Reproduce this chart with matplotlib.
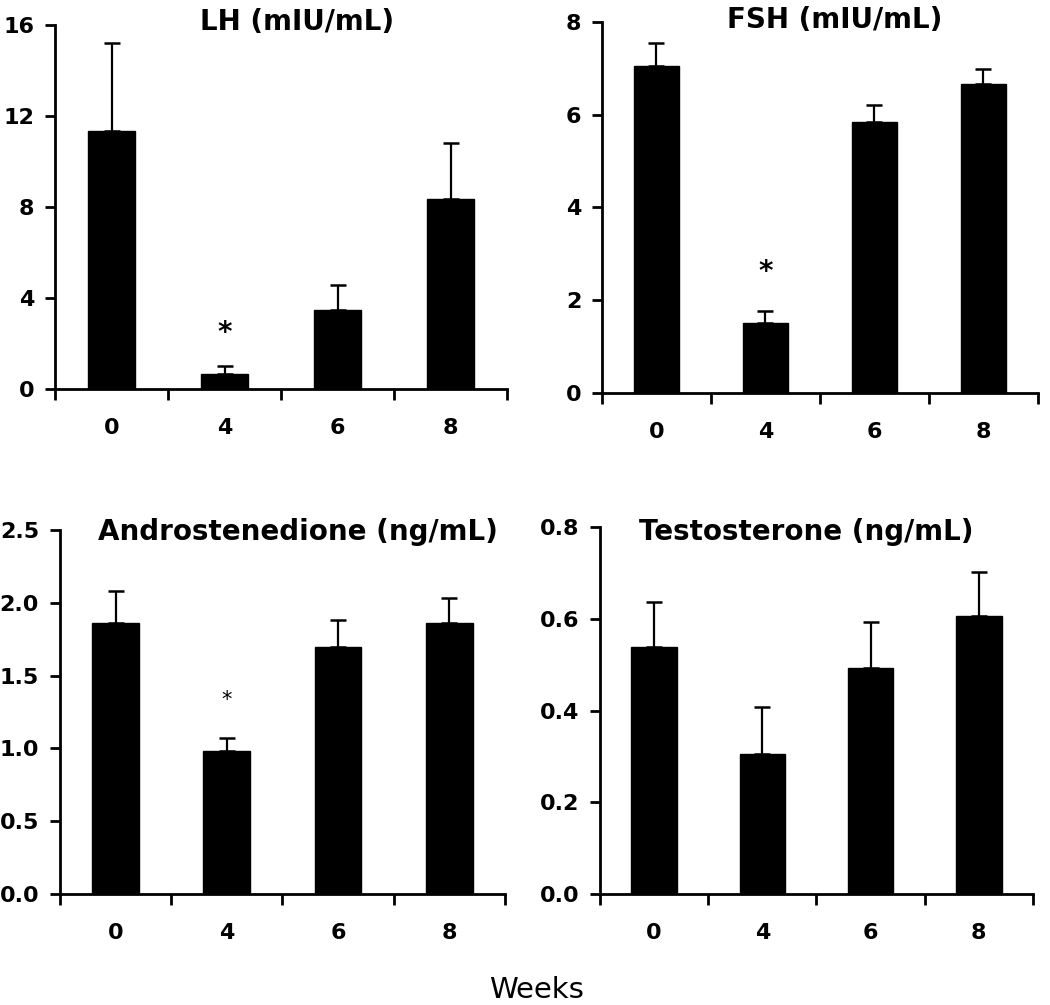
import matplotlib
matplotlib.use("Agg")
import matplotlib.pyplot as plt
import numpy as np

plt.rcParams['font.family'] = ['DejaVu Sans']

weeks = ["0", "4", "6", "8"]

lh_mean = [11.35, 0.66, 3.47, 8.35]
lh_err = [3.85, 0.34, 1.10, 2.45]

fsh_mean = [7.05, 1.51, 5.84, 6.66]
fsh_err = [0.49, 0.26, 0.36, 0.32]

andro_mean = [1.86, 0.98, 1.70, 1.86]
andro_err = [0.22, 0.09, 0.18, 0.17]

testo_mean = [0.539, 0.306, 0.493, 0.607]
testo_err = [0.098, 0.102, 0.101, 0.096]

titles = ["LH (mIU/mL)", "FSH (mIU/mL)", "Androstenedione (ng/mL)", "Testosterone (ng/mL)"]
yticks = [[0, 4, 8, 12, 16], [0, 2, 4, 6, 8],
          [0.0, 0.5, 1.0, 1.5, 2.0, 2.5], [0.0, 0.2, 0.4, 0.6, 0.8]]
ytick_labels = [["0", "4", "8", "12", "16"], ["0", "2", "4", "6", "8"],
                ["0.0", "0.5", "1.0", "1.5", "2.0", "2.5"], ["0.0", "0.2", "0.4", "0.6", "0.8"]]

# significance markers: (panel, bar index, y value, bold, size)
stars = [(0, 1, 2.46, True, 20), (1, 1, 2.6, True, 20), (2, 1, 1.33, False, 15)]

fig = plt.figure(figsize=(10.5, 10.05), dpi=100)
rects = [
    [0.0524, 0.6129, 0.4305, 0.3622],
    [0.5733, 0.6090, 0.4152, 0.3692],
    [0.0571, 0.1104, 0.4238, 0.3622],
    [0.5714, 0.1104, 0.4124, 0.3652],
]
means = [lh_mean, fsh_mean, andro_mean, testo_mean]
errs = [lh_err, fsh_err, andro_err, testo_err]
title_y = [1005 - 22, 1005 - 20, 1005 - 532, 1005 - 532]
title_x = [297, 835, 298, 806]

axes = []
for i in range(4):
    ax = fig.add_axes(rects[i])
    axes.append(ax)
    x = np.arange(len(weeks))
    ax.bar(x, means[i], width=0.42, color="black", edgecolor="black", zorder=3)
    ax.errorbar(x, means[i], yerr=[np.zeros(len(weeks)), errs[i]], fmt="none",
                ecolor="black", elinewidth=1.6, capsize=6, capthick=1.8, zorder=2)
    ax.set_xlim(-0.5, 3.5)
    ax.set_ylim(yticks[i][0], yticks[i][-1])
    ax.set_yticks(yticks[i])
    ax.set_yticklabels(ytick_labels[i], fontsize=16, fontweight="bold")
    ax.set_xticks(x)
    ax.set_xticklabels(weeks, fontsize=16, fontweight="bold")
    ax.set_xticks(np.arange(-0.5, 4.0, 1.0), minor=True)
    ax.tick_params(axis="x", which="major", length=0, pad=21)
    ax.tick_params(axis="x", which="minor", length=8, width=2, direction="out")
    ax.tick_params(axis="y", which="major", length=7, width=2, direction="out", pad=8)
    for s in ["top", "right"]:
        ax.spines[s].set_visible(False)
    for s in ["left", "bottom"]:
        ax.spines[s].set_linewidth(2)
    ax.spines["left"].set_bounds(yticks[i][0], yticks[i][-1])
    fig.text(title_x[i] / 1050, title_y[i] / 1005, titles[i], fontsize=20,
             fontweight="bold", ha="center", va="center")

for p, bi, yv, bold, size in stars:
    axes[p].text(bi, yv, "*", ha="center", va="center", fontsize=size,
                 fontweight="bold" if bold else "normal")

fig.text(536 / 1050, 1 - 990 / 1005, "Weeks", fontsize=21, ha="center", va="center")

fig.savefig("out.png", dpi=100)
